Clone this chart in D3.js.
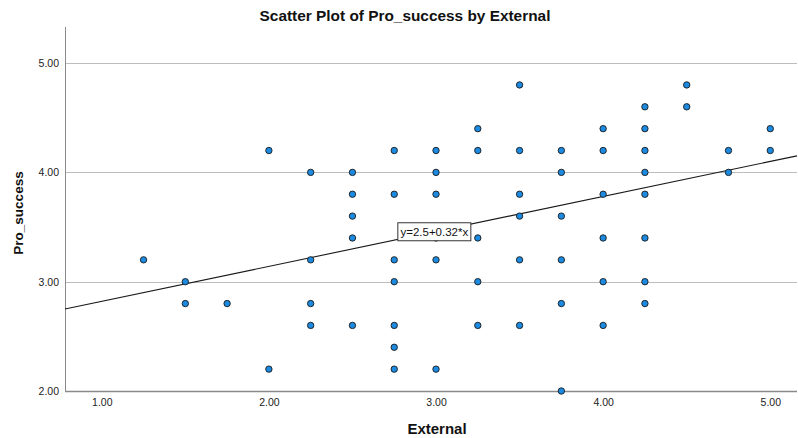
<!DOCTYPE html>
<html>
<head>
<meta charset="utf-8">
<script src="https://cdn.jsdelivr.net/npm/d3@7"></script>
<style>
  html, body { margin: 0; padding: 0; background: #fff; }
  #chart { width: 798px; height: 438px; }
  text { font-family: "Liberation Sans", Arial, sans-serif; }
</style>
</head>
<body>
<div id="chart"></div>
<script>
// External score levels (x) and the Pro_success values seen at each level
const externalLevels = [1.25, 1.5, 1.75, 2.0, 2.25, 2.5, 2.75, 3.0, 3.25, 3.5, 3.75, 4.0, 4.25, 4.5, 4.75, 5.0];
const proSuccessByLevel = [
  [3.2],
  [3.0, 2.8],
  [2.8],
  [4.2, 2.2],
  [4.0, 3.2, 2.8, 2.6],
  [4.0, 3.8, 3.6, 3.4, 2.6],
  [4.2, 3.8, 3.2, 3.0, 2.6, 2.4, 2.2],
  [4.2, 4.0, 3.8, 3.4, 3.2, 2.2],
  [4.4, 4.2, 3.4, 3.0, 2.6],
  [4.8, 4.2, 3.8, 3.6, 3.2, 2.6],
  [4.2, 4.0, 3.6, 3.2, 2.8, 2.0],
  [4.4, 4.2, 3.8, 3.4, 3.0, 2.6],
  [4.6, 4.4, 4.2, 4.0, 3.8, 3.4, 3.0, 2.8],
  [4.8, 4.6],
  [4.2, 4.0],
  [4.4, 4.2],
];
const xTicks = [1, 2, 3, 4, 5];
const yTicks = [2, 3, 4, 5];
const fitIntercept = 2.5;
const fitSlope = 0.32;
const fitLabel = 'y=2.5+0.32*x';

const width = 798;
const height = 438;
const margin = { top: 27, right: 1, bottom: 47, left: 65 };
const innerWidth = width - margin.left - margin.right;
const innerHeight = height - margin.top - margin.bottom;

const points = [];
externalLevels.forEach((x, i) => {
  proSuccessByLevel[i].forEach((y) => points.push({ x, y }));
});

const svg = d3.select('#chart')
  .append('svg')
  .attr('width', width)
  .attr('height', height);

const x = d3.scaleLinear().domain([0.78, 5.16]).range([0, innerWidth]);
const y = d3.scaleLinear().domain([2, 5.33]).range([innerHeight, 0]);

const g = svg.append('g')
  .attr('transform', `translate(${margin.left},${margin.top})`);

// horizontal grid lines
g.append('g')
  .selectAll('line')
  .data(yTicks.filter((t) => t > 2))
  .enter()
  .append('line')
  .attr('x1', 0)
  .attr('x2', innerWidth)
  .attr('y1', (d) => Math.round(y(d)) + 0.5)
  .attr('y2', (d) => Math.round(y(d)) + 0.5)
  .style('stroke', '#bdbdbd')
  .style('stroke-width', 1);

// y axis
const yAxis = g.append('g')
  .call(d3.axisLeft(y).tickValues(yTicks).tickSize(0).tickPadding(6).tickFormat(d3.format('.2f')));
yAxis.select('.domain').remove();
yAxis.selectAll('text')
  .style('font-size', '10.5px')
  .style('fill', '#222');

// x axis
const xAxis = g.append('g')
  .attr('transform', `translate(0,${innerHeight})`)
  .call(d3.axisBottom(x).tickValues(xTicks).tickSize(0).tickPadding(8).tickFormat(d3.format('.2f')));
xAxis.select('.domain').remove();
xAxis.selectAll('text')
  .style('font-size', '10.5px')
  .style('fill', '#222');

// axis lines
g.append('line')
  .attr('x1', 0.5).attr('x2', 0.5)
  .attr('y1', 0).attr('y2', innerHeight)
  .style('stroke', '#8a8a8a')
  .style('stroke-width', 1);
g.append('line')
  .attr('x1', 0).attr('x2', innerWidth)
  .attr('y1', innerHeight + 0.5).attr('y2', innerHeight + 0.5)
  .style('stroke', '#8a8a8a')
  .style('stroke-width', 1.5);

// fit line
const [x0, x1] = x.domain();
g.append('line')
  .attr('x1', x(x0))
  .attr('y1', y(fitIntercept + fitSlope * x0))
  .attr('x2', x(x1))
  .attr('y2', y(fitIntercept + fitSlope * x1))
  .style('stroke', '#1a1a1a')
  .style('stroke-width', 1.1);

// points
g.append('g')
  .selectAll('circle')
  .data(points)
  .enter()
  .append('circle')
  .attr('cx', (d) => x(d.x))
  .attr('cy', (d) => y(d.y))
  .attr('r', 3.2)
  .style('fill', '#1b8ae0')
  .style('stroke', '#1a1a1a')
  .style('stroke-width', 0.9);

// equation label, centred on the fit line
const labelX = 2.99;
const lx = x(labelX);
const ly = y(fitIntercept + fitSlope * labelX);
const label = g.append('g').attr('transform', `translate(${lx},${ly})`);
label.append('rect')
  .attr('x', -36.5)
  .attr('y', -9)
  .attr('width', 73)
  .attr('height', 18)
  .style('fill', '#fff')
  .style('stroke', '#333')
  .style('stroke-width', 1);
label.append('text')
  .attr('text-anchor', 'middle')
  .attr('y', 4)
  .style('font-size', '11.5px')
  .style('fill', '#111')
  .text(fitLabel);

// title and axis titles
svg.append('text')
  .attr('x', 405)
  .attr('y', 21)
  .attr('text-anchor', 'middle')
  .style('font-size', '15.4px')
  .style('font-weight', 'bold')
  .style('fill', '#111')
  .text('Scatter Plot of Pro_success by External');

svg.append('text')
  .attr('x', 437)
  .attr('y', 434)
  .attr('text-anchor', 'middle')
  .style('font-size', '15px')
  .style('font-weight', 'bold')
  .style('fill', '#111')
  .text('External');

svg.append('text')
  .attr('transform', 'translate(23,213) rotate(-90)')
  .attr('text-anchor', 'middle')
  .style('font-size', '13.5px')
  .style('font-weight', 'bold')
  .style('fill', '#111')
  .text('Pro_success');
</script>
</body>
</html>
